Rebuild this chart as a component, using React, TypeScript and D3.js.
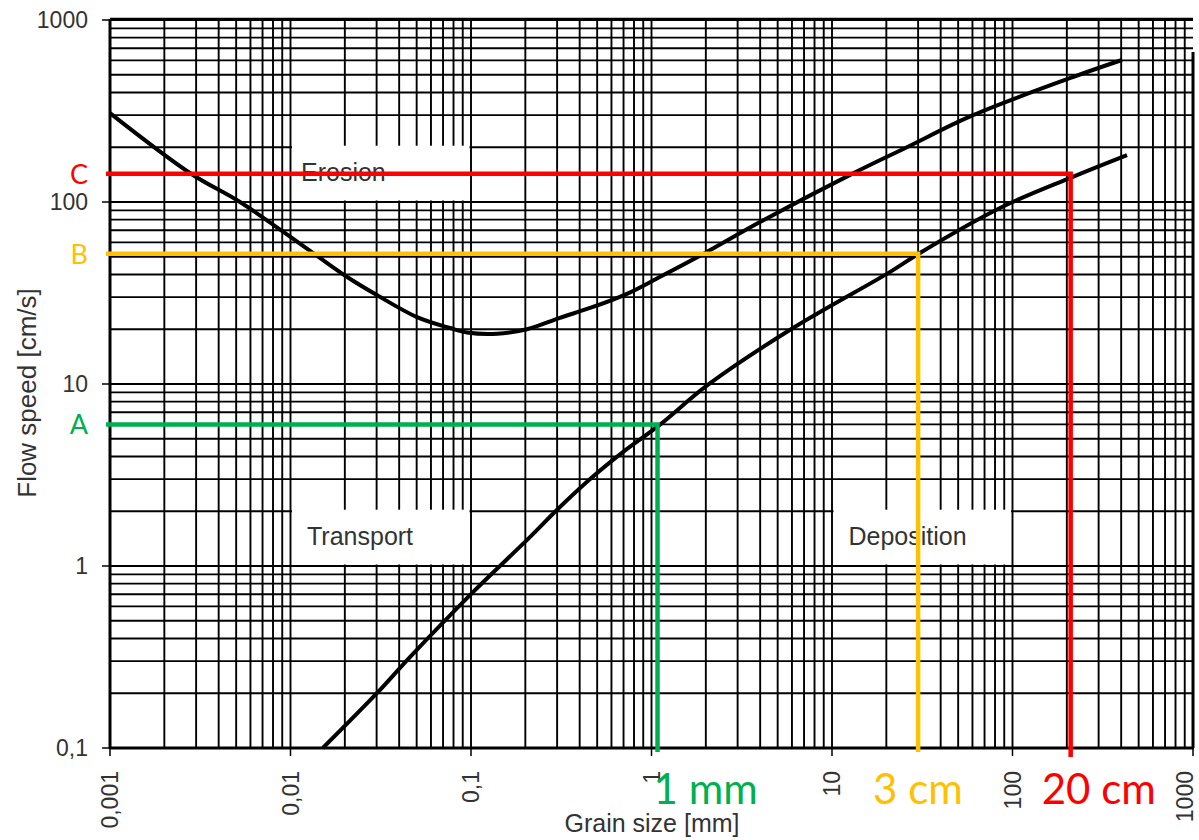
import React from "react";
import * as d3 from "d3";

// erosion curve (upper)
const grainErosion = [0.001, 0.00284, 0.00525, 0.0133, 0.0206, 0.0301, 0.0502, 0.0766, 0.095, 0.14, 0.204, 0.311, 0.474, 0.731, 1.11, 1.98, 3.99, 12.6, 26.0, 60.4, 216, 404];
const speedErosion = [308, 142, 100, 52.5, 38.7, 30.8, 23.3, 20.3, 19.2, 18.9, 20.0, 23.1, 26.5, 31.3, 38.7, 52.5, 77.6, 141, 200, 300, 486, 603];

// deposition curve (lower)
const grainDeposition = [0.0151, 0.0301, 0.0459, 0.1026, 0.212, 0.299, 0.474, 0.7, 1.11, 2.05, 6.08, 20.9, 30.7, 85.3, 214, 431];
const speedDeposition = [0.1, 0.2, 0.316, 0.719, 1.44, 2.03, 3.1, 4.25, 5.96, 9.88, 20.3, 41.2, 52.5, 92.7, 137, 181];

const xTicks = [0.001, 0.01, 0.1, 1, 10, 100, 1000];
const xTickLabels = ["0,001", "0,01", "0,1", "1", "10", "100", "1000"];
const yTicks = [0.1, 1, 10, 100, 1000];
const yTickLabels = ["0,1", "1", "10", "100", "1000"];

const regionNames = ["Erosion", "Transport", "Deposition"];
const regionGrain = [[0.01, 0.1], [0.01, 0.1], [10, 100]];
const regionSpeed = [[100, 200], [1, 2], [1, 2]];

const markLetters = ["A", "B", "C"];
const markTexts = ["1 mm", "3 cm", "20 cm"];
const markGrain = [1.08, 30, 210];
const markSpeed = [6, 52, 143];
const markColors = ["#00B050", "#FFC000", "#FF0000"];

export default function App() {
  const width = 1199,
    height = 840,
    left = 110,
    right = 1193,
    top = 20,
    bottom = 748;

  const x = d3.scaleLog().domain([0.001, 1000]).range([left, right]);
  const y = d3.scaleLog().domain([0.1, 1000]).range([bottom, top]);

  const pathOf = (gs: number[], vs: number[]) =>
    d3
      .line<number>()
      .x(i => x(gs[i]))
      .y(i => y(vs[i]))
      .curve(d3.curveCatmullRom.alpha(0.5))(d3.range(gs.length));

  const font = "'Liberation Sans', Arial, sans-serif";
  const textColor = "#333";
  const markFont = "Lato, 'Open Sans', sans-serif";
  const markTextOffset = [-4, -45, -29];

  return (
    <svg
      width={width}
      height={height}
      style={{ position: "absolute", left: 0, top: 0, background: "#fff" }}
    >
      <rect width={width} height={height} fill="#fff" />

      {/* grid */}
      <g stroke="#000" strokeWidth={1.9}>
        {x.ticks().filter(v => v < 999).map((v, i) => (
          <line key={"gx" + i} x1={x(v)} x2={x(v)} y1={top} y2={bottom} />
        ))}
        {y.ticks().map((v, i) => (
          <line key={"gy" + i} x1={left} x2={right} y1={y(v)} y2={y(v)} />
        ))}
      </g>

      {/* region label boxes */}
      {regionNames.map((name, i) => {
        const x0 = x(regionGrain[i][0]) + 1.5;
        const x1 = x(regionGrain[i][1]) - 1.5;
        const y0 = y(regionSpeed[i][1]) - 1.5;
        const y1 = y(regionSpeed[i][0]) - 1.5;
        return (
          <g key={name}>
            <rect x={x0} y={y0} width={x1 - x0} height={y1 - y0} fill="#fff" />
            <text
              x={x0 + (i === 0 ? 9 : 15)}
              y={(y0 + y1) / 2 + 8}
              fontFamily={font}
              fontSize={25}
              fill={textColor}
            >
              {name}
            </text>
          </g>
        );
      })}

      {/* frame */}
      <g stroke="#000" fill="none">
        <line x1={left} x2={left} y1={top - 1} y2={bottom + 1} strokeWidth={3} />
        <line x1={left} x2={right + 1} y1={bottom} y2={bottom} strokeWidth={3} />
        <line x1={left} x2={right} y1={top - 1} y2={top - 1} strokeWidth={2.5} />
        <line x1={right} x2={right} y1={52} y2={bottom} strokeWidth={3} />
      </g>

      {/* ticks */}
      <g stroke="#000" strokeWidth={1.5}>
        {yTicks.map(v => (
          <line key={"ty" + v} x1={left - 8} x2={left} y1={y(v)} y2={y(v)} />
        ))}
        {xTicks.map(v => (
          <line key={"tx" + v} x1={x(v)} x2={x(v)} y1={bottom} y2={bottom + 8} />
        ))}
      </g>

      <g fontFamily={font} fontSize={23} fill={textColor}>
        {yTicks.map((v, i) => (
          <text key={"ly" + v} x={88} y={y(v) + 8} textAnchor="end">
            {yTickLabels[i]}
          </text>
        ))}
        {xTicks.map((v, i) => (
          <text
            key={"lx" + v}
            transform={`translate(${Math.min(x(v) + 8, width - 6)},${771}) rotate(-90)`}
            textAnchor="end"
          >
            {xTickLabels[i]}
          </text>
        ))}
      </g>

      <text
        x={652}
        y={832}
        textAnchor="middle"
        fontFamily={font}
        fontSize={25}
        fill={textColor}
      >
        Grain size [mm]
      </text>
      <text
        transform={`translate(${36},${393}) rotate(-90)`}
        textAnchor="middle"
        fontFamily={font}
        fontSize={26}
        fill={textColor}
      >
        Flow speed [cm/s]
      </text>

      {/* curves */}
      <path d={pathOf(grainErosion, speedErosion) || ""} fill="none" stroke="#000" strokeWidth={4} />
      <path d={pathOf(grainDeposition, speedDeposition) || ""} fill="none" stroke="#000" strokeWidth={4} />

      {/* reading guides */}
      {markLetters.map((m, i) => {
        const px = x(markGrain[i]);
        const py = y(markSpeed[i]);
        return (
          <g key={m}>
            <path
              d={`M${left - 4},${py}H${px}V${bottom + (i === 2 ? 9 : 4)}`}
              fill="none"
              stroke={markColors[i]}
              strokeWidth={4.5}
            />
            <text
              x={88}
              y={py + 10}
              textAnchor="end"
              fontFamily={markFont}
              fontSize={27}
              fill={markColors[i]}
            >
              {m}
            </text>
            <text
              x={px + markTextOffset[i]}
              y={804}
              fontFamily={markFont}
              fontSize={42}
              fill={markColors[i]}
            >
              {markTexts[i]}
            </text>
          </g>
        );
      })}
    </svg>
  );
}
